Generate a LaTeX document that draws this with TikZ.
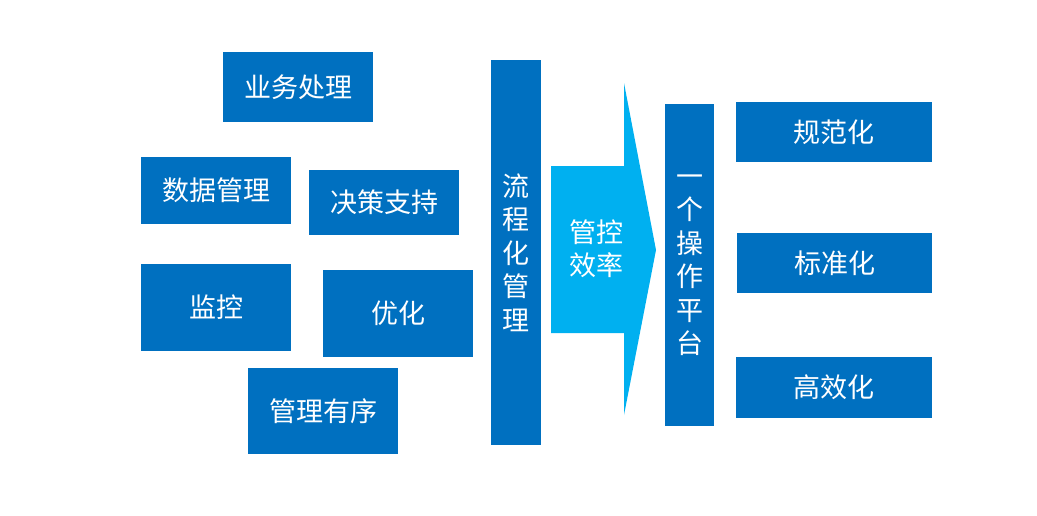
\documentclass[tikz,border=0pt]{standalone}
\usepackage{fontspec}
\newfontfamily\cjk{Noto Sans CJK SC}
\definecolor{dblue}{HTML}{0070C0}
\definecolor{lblue}{HTML}{00B0F0}
\begin{document}
\begin{tikzpicture}[x=1pt,y=-1pt,
  box/.style={fill=dblue,draw=none,inner sep=0pt,text=white,font=\cjk\fontsize{27}{33.5}\selectfont,align=center},
]
\useasboundingbox (0,0) rectangle (1037,515);
\newcommand\bx[6]{\node[box,minimum width={#4-#2},minimum height={#5-#3}] (#1) at ({(#2+#4)/2},{(#3+#5)/2}) {#6};}
\bx{a}{223}{52}{373}{122}{业务处理}
\bx{b}{141}{157}{291}{224}{数据管理}
\bx{c}{309}{170}{459}{235}{决策支持}
\bx{d}{141}{264}{291}{351}{监控}
\bx{e}{323}{270}{473}{357}{优化}
\bx{f}{248}{368}{398}{454}{管理有序}
\bx{g}{491}{60}{541}{445}{流\\程\\化\\管\\理}
\bx{h}{665}{104}{714}{426}{一\\个\\操\\作\\平\\台}
\bx{i}{736}{102}{932}{162}{规范化}
\bx{j}{737}{233}{932}{293}{标准化}
\bx{k}{736}{357}{932}{418}{高效化}
\fill[lblue] (551,166) -- (624,166) -- (624,83) -- (656,250) -- (624,415) -- (624,333) -- (551,333) -- cycle;
\node[text=white,font=\cjk\fontsize{27}{33}\selectfont,align=center,inner sep=0pt] (m) at (596,249) {管控\\效率};
\end{tikzpicture}
\end{document}
